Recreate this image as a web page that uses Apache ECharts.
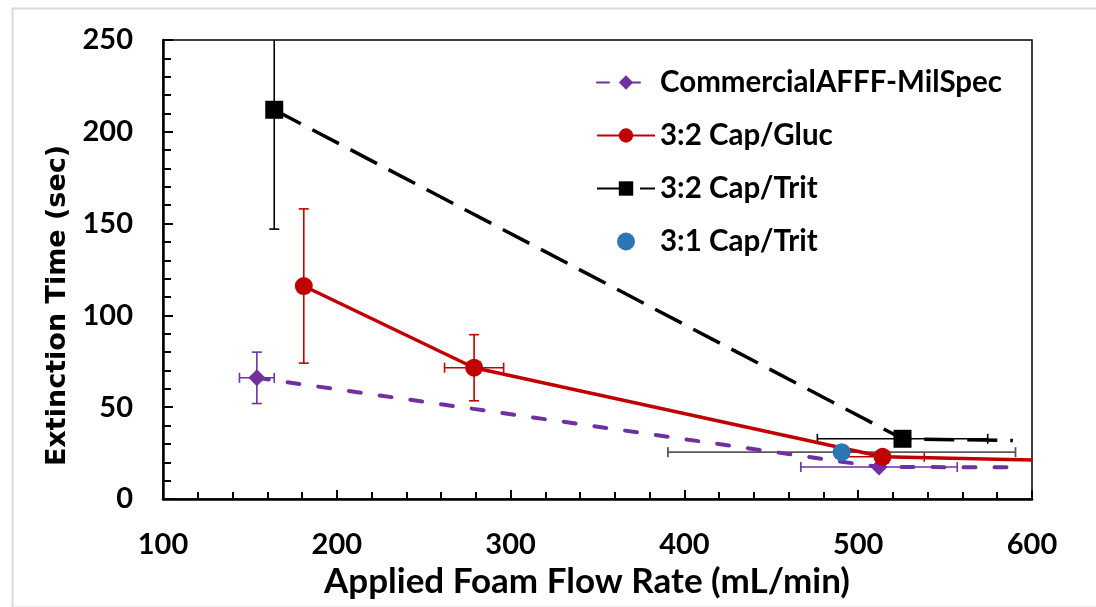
<!DOCTYPE html>
<html><head><meta charset="utf-8">
<script src="https://cdn.jsdelivr.net/npm/echarts@6/dist/echarts.min.js"></script>
<style>html,body{margin:0;padding:0;background:#fff}#c{width:1096px;height:607px}</style>
</head><body><div id="c"></div>
<script>
// ---- data ----
const seriesNames = ['CommercialAFFF-MilSpec', '3:2 Cap/Gluc', '3:2 Cap/Trit', '3:1 Cap/Trit'];
const xTickLabels = [100, 200, 300, 400, 500, 600];
const yTickLabels = [0, 50, 100, 150, 200, 250];

const milspecX    = [154, 512, 593];
const milspecY    = [66, 17.4, 17.3];
const milspecXErr = [10, 45, 0];
const milspecYErr = [14, 0, 0];

const glucX    = [181, 279, 514, 600];
const glucY    = [116, 71.5, 23, 21.2];
const glucXErr = [0, 17, 24, 0];
const glucYErr = [42, 18, 0, 0];

const trit32X    = [164, 525.5, 589];
const trit32Y    = [212, 32.8, 31.8];
const trit32XErr = [0, 49, 0];
const trit32YErr = [65, 0, 0];

const trit31X    = [490.5];
const trit31Y    = [25.5];
const trit31XErr = [100];
const trit31YErr = [0];

// which points carry a visible marker
const milspecMarker = [true, true, false];
const glucMarker    = [true, true, true, false];
const trit32Marker  = [true, true, false];

// ---- styling ----
const FONT = 'Lato';
const C_PURPLE = '#7030A0', C_RED = '#C00000', C_BLACK = '#000000', C_BLUE = '#2E75B6', C_GRAY = '#595959';

function pts(xs, ys, marks) {
  return xs.map((x, i) => {
    const d = { value: [x, ys[i]] };
    if (marks && !marks[i]) d.symbol = 'none';
    return d;
  });
}

function errorSeries(xs, ys, xe, ye, color, width) {
  const data = xs.map((x, i) => [x, ys[i], xe[i] || 0, ye[i] || 0]).filter(d => d[2] || d[3]);
  const cap = 5;
  return {
    type: 'custom', silent: true, z: 1, clip: true,
    data: data,
    encode: { x: 0, y: 1 },
    renderItem: function (params, api) {
      const x = api.value(0), y = api.value(1), dx = api.value(2), dy = api.value(3);
      const st = { stroke: color, lineWidth: width, fill: null };
      const ch = [];
      if (dy) {
        const t = api.coord([x, y + dy]), b = api.coord([x, y - dy]);
        ch.push({ type: 'line', shape: { x1: t[0], y1: t[1], x2: b[0], y2: b[1] }, style: st });
        ch.push({ type: 'line', shape: { x1: t[0] - cap, y1: t[1], x2: t[0] + cap, y2: t[1] }, style: st });
        ch.push({ type: 'line', shape: { x1: b[0] - cap, y1: b[1], x2: b[0] + cap, y2: b[1] }, style: st });
      }
      if (dx) {
        const l = api.coord([x - dx, y]), r = api.coord([x + dx, y]);
        ch.push({ type: 'line', shape: { x1: l[0], y1: l[1], x2: r[0], y2: r[1] }, style: st });
        ch.push({ type: 'line', shape: { x1: l[0], y1: l[1] - cap, x2: l[0], y2: l[1] + cap }, style: st });
        ch.push({ type: 'line', shape: { x1: r[0], y1: r[1] - cap, x2: r[0], y2: r[1] + cap }, style: st });
      }
      return { type: 'group', children: ch };
    }
  };
}

const labelStyle = { fontFamily: FONT, fontWeight: 'bold', fontSize: 29, color: '#000' };

const chart = echarts.init(document.getElementById('c'), null, { renderer: 'canvas' });
chart.setOption({
  backgroundColor: '#fff',
  animation: false,
  graphic: [{
    type: 'rect', left: 10, top: 6, shape: { width: 1085, height: 599 },
    style: { fill: null, stroke: '#d9d9d9', lineWidth: 2 }, silent: true, z: -10
  }],
  grid: { left: 163, right: 64, top: 40, bottom: 108, show: true, borderColor: '#000', borderWidth: 1.5, backgroundColor: 'transparent' },
  legend: {
    data: seriesNames,
    orient: 'vertical', left: 591, top: 62,
    itemWidth: 58, itemHeight: 18, itemGap: 22,
    textStyle: { fontFamily: FONT, fontWeight: 'bold', fontSize: 29.5, color: '#000', lineHeight: 31 },
    selectedMode: false
  },
  xAxis: {
    type: 'value', min: xTickLabels[0], max: xTickLabels[xTickLabels.length - 1], interval: 100,
    axisLine: { onZero: false, lineStyle: { color: '#000', width: 2.5 } },
    axisTick: { inside: true, length: 9, lineStyle: { color: '#000', width: 2 } },
    minorTick: { show: true, splitNumber: 5, length: 7, lineStyle: { color: '#000', width: 2 } },
    splitLine: { show: false },
    axisLabel: Object.assign({ margin: 31 }, labelStyle),
    name: 'Applied Foam Flow Rate (mL/min)', nameLocation: 'middle', nameGap: 63,
    nameTextStyle: { fontFamily: FONT, fontWeight: 'bold', fontSize: 35, color: '#000', padding: [0, 21, 0, 0] }
  },
  yAxis: {
    type: 'value', min: yTickLabels[0], max: yTickLabels[yTickLabels.length - 1], interval: 50,
    axisLine: { lineStyle: { color: '#000', width: 2.5 } },
    axisTick: { inside: true, length: 10, lineStyle: { color: '#000', width: 2 } },
    minorTick: { show: true, splitNumber: 5, length: 8, lineStyle: { color: '#000', width: 2 } },
    splitLine: { show: false },
    axisLabel: Object.assign({ margin: 30 }, labelStyle),
    name: 'Extinction Time (sec)', nameLocation: 'middle', nameGap: 92,
    nameTextStyle: { fontFamily: 'DejaVu Sans', fontWeight: 'bold', fontSize: 27, color: '#000', padding: [0, 72, 0, 0] }
  },
  series: [
    errorSeries(milspecX, milspecY, milspecXErr, milspecYErr, C_PURPLE, 1.6),
    errorSeries(glucX, glucY, glucXErr, glucYErr, C_RED, 1.6),
    errorSeries(trit32X, trit32Y, trit32XErr, trit32YErr, C_BLACK, 1.6),
    errorSeries(trit31X, trit31Y, trit31XErr, trit31YErr, C_GRAY, 1.8),
    {
      name: seriesNames[0], type: 'line', z: 3, data: pts(milspecX, milspecY, milspecMarker),
      symbol: 'diamond', symbolSize: 17, showAllSymbol: true,
      itemStyle: { color: C_PURPLE },
      lineStyle: { color: C_PURPLE, width: 4, type: [12, 19], cap: 'round' }
    },
    {
      name: seriesNames[1], type: 'line', z: 4, data: pts(glucX, glucY, glucMarker),
      symbol: 'circle', symbolSize: 18, showAllSymbol: true,
      itemStyle: { color: C_RED },
      lineStyle: { color: C_RED, width: 3.5 }
    },
    {
      name: seriesNames[2], type: 'line', z: 3, data: pts(trit32X, trit32Y, trit32Marker),
      symbol: 'rect', symbolSize: 18, showAllSymbol: true,
      itemStyle: { color: C_BLACK },
      lineStyle: { color: C_BLACK, width: 3.5, type: [30, 13] }
    },
    {
      name: seriesNames[3], type: 'scatter', z: 5, data: pts(trit31X, trit31Y),
      symbol: 'circle', symbolSize: 18,
      itemStyle: { color: C_BLUE, opacity: 1 }
    }
  ]
});
</script>
</body></html>
